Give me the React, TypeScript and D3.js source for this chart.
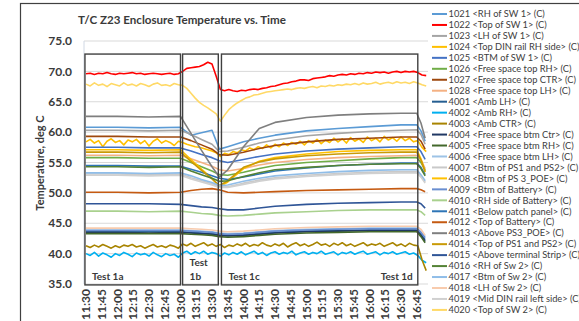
import React from 'react';
import * as d3 from 'd3';

const WIDTH = 579;
const HEIGHT = 321;

const xTickLabels = ['11:30','11:45','12:00','12:15','12:30','12:45','13:00','13:15','13:30','13:45','14:00','14:15','14:30','14:45','15:00','15:15','15:30','15:45','16:00','16:15','16:30','16:45'];
const yTickValues = [35, 40, 45, 50, 55, 60, 65, 70, 75];

// Sample times (clock) for the smooth channels
const smoothTimes = ['11:30','12:00','12:30','13:00','13:10','13:20','13:30','13:37','13:45','14:00','14:15','14:30','15:00','15:30','16:00','16:30','16:45','16:49','16:53'];
// Sample times for the noisy channels: every 4 minutes from 11:30
const noisyTimes = d3.range(0, 325, 4).map(m => {
  const t = 690 + m;
  return `${Math.floor(t / 60)}:${String(t % 60).padStart(2, '0')}`;
});

// ---- noisy channels (82 samples) ----
const v1022 = [69.6,69.7,69.5,69.7,69.6,69.8,69.6,69.5,69.7,69.6,69.7,69.8,69.6,69.7,69.5,69.6,69.7,69.6,69.5,69.6,69.7,69.5,69.6,
  70.0,70.5,70.6,70.7,70.8,71.1,71.5,71.2,69.2,
  67.0,66.8,67.0,66.8,66.7,66.9,66.8,67.0,67.1,67.0,
  67.2,67.3,67.5,67.6,67.8,68.0,68.1,68.3,68.4,68.6,
  68.6,68.5,68.8,68.9,69.0,69.1,69.3,69.2,69.4,69.5,
  69.4,69.6,69.5,69.7,69.6,69.8,69.7,69.9,69.8,69.9,
  69.7,69.9,70.0,69.8,70.0,69.9,70.0,69.8,69.4,69.3];
const v4020 = [67.9,67.6,68.1,67.7,67.9,67.5,68.0,67.8,67.6,68.1,67.7,67.9,67.6,68.0,67.8,67.5,67.9,68.1,67.7,67.8,67.6,68.0,67.8,
  67.7,67.2,66.4,65.6,64.9,64.4,64.0,63.5,63.0,
  61.8,62.8,63.7,64.3,64.8,65.2,65.6,65.8,66.1,66.2,
  66.4,66.6,66.7,66.8,66.9,67.0,67.1,67.0,67.2,67.3,
  67.2,67.4,67.5,67.3,67.6,67.5,67.7,67.6,67.8,67.7,
  67.9,67.8,68.0,67.8,68.1,67.9,68.0,68.2,67.9,68.1,
  68.2,68.0,68.3,68.1,68.2,68.0,68.3,68.1,67.8,67.6];
const v1024 = [58.4,58.8,58.2,58.6,57.6,58.5,58.9,58.3,58.6,57.9,58.7,58.4,58.8,58.1,58.6,57.7,58.5,58.9,58.2,58.6,58.3,57.8,58.5,
  58.3,58.0,57.8,57.6,57.5,57.3,57.1,56.9,56.6,
  56.0,56.5,56.3,56.8,56.6,57.1,56.9,57.4,57.1,57.6,
  57.3,57.9,57.4,58.0,57.6,58.2,57.8,58.3,58.0,58.5,
  57.9,58.6,58.2,58.8,58.1,58.7,58.3,59.0,58.4,58.9,
  58.2,59.1,58.5,58.9,58.3,59.2,58.6,59.0,58.4,59.3,
  58.7,59.1,58.5,59.2,58.6,59.0,58.4,58.6,57.5,56.8];
const v4003 = [41.3,41.0,41.4,41.1,41.5,41.2,40.9,41.3,41.0,41.4,41.2,41.5,41.1,41.3,40.9,41.2,41.5,41.1,41.3,41.0,41.4,41.2,40.9,
  41.6,41.3,41.7,41.2,41.5,41.8,41.3,41.6,41.2,
  41.5,41.0,41.4,41.2,41.6,41.3,41.7,41.2,41.5,41.3,
  41.8,41.4,41.2,41.6,41.3,41.7,41.1,41.5,41.8,41.3,
  41.6,41.2,41.5,41.9,41.4,41.6,41.2,41.7,41.4,41.8,
  41.3,41.6,41.2,41.5,41.8,41.3,41.6,41.4,41.7,41.2,
  41.5,41.8,41.3,41.6,41.2,41.7,41.4,41.3,39.0,37.2];
const v4002 = [40.0,39.7,40.2,39.6,40.1,39.8,39.4,40.0,39.7,40.2,39.9,39.5,40.1,39.8,40.0,39.6,40.2,39.8,39.5,40.0,39.7,39.9,39.4,
  40.1,40.4,39.9,40.3,40.0,40.4,39.9,40.2,40.0,
  39.6,40.1,39.8,40.2,39.9,40.3,39.8,40.1,40.4,39.9,
  40.2,39.7,40.1,40.3,39.9,40.2,40.0,40.4,39.8,40.1,
  40.3,39.9,40.2,40.0,40.4,39.9,40.1,40.3,39.8,40.2,
  40.0,40.3,39.9,40.2,40.4,39.9,40.1,40.3,39.8,40.2,
  40.0,40.3,39.9,40.1,40.3,39.9,40.1,39.7,38.9,38.5];

// ---- smooth channels (19 samples at smoothTimes) ----
const v1021 = [60.8,60.8,60.7,60.8,59.5,59.9,60.3,57.2,57.6,58.4,59.0,59.5,60.2,60.6,60.9,61.2,61.2,60.2,58.5];
const v1023 = [60.3,60.3,60.2,60.3,59.6,58.8,58.0,56.8,56.9,57.5,58.2,58.7,59.4,59.8,60.1,60.3,60.4,59.6,58.0];
const v1025 = [57.5,57.5,57.4,57.4,56.9,56.3,55.8,55.3,55.0,55.5,56.0,56.4,56.9,57.2,57.4,57.6,57.6,56.8,55.5];
const v1026 = [55.8,55.8,55.7,55.7,55.0,54.3,53.6,53.0,52.9,53.4,54.0,54.5,55.0,55.3,55.6,55.8,55.8,55.0,53.8];
const v1027 = [59.3,59.3,59.2,59.2,58.6,57.9,57.2,56.3,56.2,56.7,57.3,57.8,58.4,58.8,59.0,59.2,59.2,58.5,57.2];
const v1028 = [56.2,56.2,56.1,56.2,55.6,55.0,54.4,53.8,53.6,54.0,54.6,55.0,55.5,55.8,56.0,56.1,56.2,55.5,54.0];
const v4001 = [43.6,43.6,43.6,43.6,43.5,43.4,43.3,43.1,43.0,43.1,43.3,43.5,43.7,43.8,43.9,43.9,43.9,43.2,42.3];
const v4004 = [43.5,43.5,43.4,43.5,43.4,43.3,43.2,43.0,42.9,43.0,43.2,43.4,43.6,43.7,43.8,43.8,43.8,43.0,42.0];
const v4005 = [43.3,43.3,43.3,43.3,43.2,43.1,43.0,42.8,42.7,42.8,43.0,43.2,43.4,43.5,43.6,43.6,43.6,42.8,41.8];
const v4006 = [43.9,43.9,43.9,43.9,43.8,43.7,43.6,43.4,43.3,43.4,43.6,43.8,44.0,44.1,44.2,44.2,44.2,43.6,42.8];
const v4007 = [53.1,53.1,53.0,53.1,52.5,52.0,51.5,51.0,51.0,51.6,52.1,52.5,52.9,53.2,53.4,53.5,53.5,52.8,51.8];
const v4008 = [57.1,57.1,57.0,57.1,55.5,53.9,52.4,51.0,51.8,54.0,55.2,55.8,56.4,56.8,57.0,57.1,57.1,55.6,53.4];
const v4009 = [43.8,43.8,43.8,43.8,43.7,43.6,43.5,43.3,43.2,43.3,43.5,43.7,43.9,44.0,44.1,44.1,44.1,43.5,42.6];
const v4010 = [47.0,47.0,46.9,47.0,46.8,46.6,46.5,46.3,46.2,46.3,46.5,46.7,46.9,47.1,47.2,47.2,47.2,46.9,46.3];
const v4011 = [54.5,54.5,54.4,54.4,53.9,53.4,52.8,52.4,52.2,52.6,53.1,53.6,54.1,54.5,54.7,54.9,54.9,54.2,53.0];
const v4012 = [50.1,50.1,50.0,50.1,50.4,50.6,50.7,50.5,50.1,50.0,50.1,50.2,50.4,50.5,50.6,50.7,50.7,50.5,50.2];
const v4013 = [62.6,62.6,62.5,62.6,59.8,57.0,54.3,52.6,53.8,57.6,60.6,61.6,62.4,62.8,63.0,63.1,63.1,61.5,59.0];
const v4014 = [56.7,56.7,56.6,56.7,55.2,53.7,52.3,51.2,52.0,54.2,55.1,55.6,56.1,56.4,56.6,56.7,56.7,55.4,53.5];
const v4015 = [48.2,48.2,48.2,48.1,47.9,47.7,47.6,47.4,47.2,47.2,47.5,47.8,48.1,48.3,48.4,48.5,48.5,48.2,47.5];
const v4016 = [54.3,54.3,54.2,54.3,53.6,53.0,52.4,51.9,52.0,52.7,53.3,53.8,54.2,54.5,54.7,54.8,54.8,54.0,52.8];
const v4017 = [53.3,53.3,53.2,53.3,52.8,52.2,51.7,51.2,51.3,51.9,52.4,52.8,53.2,53.5,53.7,53.8,53.8,53.0,52.0];
const v4018 = [44.2,44.2,44.2,44.2,44.1,44.0,43.9,43.7,43.6,43.7,43.9,44.1,44.3,44.4,44.5,44.5,44.5,44.0,43.0];
const v4019 = [52.9,52.9,52.8,52.9,52.3,51.8,51.3,50.9,50.9,51.4,51.9,52.3,52.7,53.0,53.2,53.3,53.3,52.6,51.6];

const seriesNames = [
  '1021 <RH of SW 1> (C)', '1022 <Top of SW 1> (C)', '1023 <LH of SW 1> (C)', '1024 <Top DIN rail RH side> (C)',
  '1025 <BTM of SW 1> (C)', '1026 <Free space top RH> (C)', '1027 <Free space top CTR> (C)', '1028 <Free space top LH> (C)',
  '4001 <Amb LH> (C)', '4002 <Amb RH> (C)', '4003 <Amb CTR> (C)', '4004 <Free space btm Ctr> (C)',
  '4005 <Free space btm RH> (C)', '4006 <Free space btm LH> (C)', '4007 <Btm of PS1 and PS2> (C)', '4008 <Btm of PS 3_POE> (C)',
  '4009 <Btm of Battery> (C)', '4010 <RH side of Battery> (C)', '4011 <Below patch panel> (C)', '4012 <Top of Battery> (C)',
  '4013 <Above PS3_POE> (C)', '4014 <Top of PS1 and PS2> (C)', '4015 <Above terminal Strip> (C)', '4016 <RH of Sw 2> (C)',
  '4017 <Btm of Sw 2> (C)', '4018 <LH of Sw 2> (C)', '4019 <Mid DIN rail left side> (C)', '4020 <Top of SW 2> (C)'
];
const seriesColors = [
  '#5B9BD5', '#FF0000', '#A5A5A5', '#FFC000', '#4472C4', '#70AD47', '#9E480E', '#F4B183',
  '#255E91', '#00B0F0', '#A88400', '#203864', '#43682B', '#9DC3E6', '#C9C9C9', '#FFC000',
  '#698ED0', '#A9D18E', '#2E75B6', '#C55A11', '#7F7F7F', '#C99A06', '#2F5597', '#548235',
  '#8FBDE8', '#F8CBAD', '#D0D0D0', '#FFD966'
];
const seriesValues = [v1021, v1022, v1023, v1024, v1025, v1026, v1027, v1028, v4001, v4002, v4003, v4004, v4005, v4006,
  v4007, v4008, v4009, v4010, v4011, v4012, v4013, v4014, v4015, v4016, v4017, v4018, v4019, v4020];

// Test phase boxes (clock times, temperature top/bottom)
const testBoxes = [
  { start: '11:29', end: '13:00', labels: [['Test 1a']], rightLabel: null as string | null },
  { start: '13:02', end: '13:36', labels: [['Test', '1b']], rightLabel: null as string | null },
  { start: '13:39', end: '16:46', labels: [['Test 1c']], rightLabel: 'Test 1d' },
];
const boxTop = 72.85;
const boxBottom = 34.85;

const toMin = (s: string) => {
  const [h, m] = s.split(':').map(Number);
  return h * 60 + m - 690;
};

export default function App() {
  const x = d3.scaleLinear().domain([0, 315]).range([86, 416.75]);
  const y = d3.scaleLinear().domain([35, 75]).range([284, 41]);
  const plotLeft = 84, plotRight = 428;

  const line = d3.line<[number, number]>().x(d => x(d[0])).y(d => y(d[1]));

  const series = seriesValues.map((vals, i) => {
    const times = vals.length === noisyTimes.length ? noisyTimes : smoothTimes;
    const pts: [number, number][] = vals.map((v, j) => [toMin(times[j]), v]);
    return { name: seriesNames[i], color: seriesColors[i], d: line(pts) || '' };
  });

  const font = "Lato, 'Open Sans', 'DejaVu Sans', sans-serif";
  const dark = '#3a3a3a';

  return (
    <svg width={WIDTH} height={HEIGHT} style={{ position: 'absolute', left: 0, top: 0, background: '#fff' }} fontFamily={font}>
      <rect x={0} y={0} width={WIDTH} height={HEIGHT} fill="#fff" />
      <rect x={20.5} y={3.5} width={700} height={400} fill="none" stroke="#404040" strokeWidth={1.2} />
      <text x={78} y={24} fontSize={11.6} fontWeight="bold" fill={dark}>T/C Z23 Enclosure Temperature vs. Time</text>

      {yTickValues.map(v => (
        <line key={'g' + v} x1={plotLeft} x2={plotRight} y1={y(v)} y2={y(v)} stroke="#D9D9D9" strokeWidth={1} />
      ))}
      <line x1={plotLeft} x2={plotLeft} y1={y(75)} y2={y(35)} stroke="#D0D8E4" strokeWidth={1} />

      <defs>
        <clipPath id="plotclip">
          <rect x={plotLeft} y={30} width={plotRight - plotLeft} height={260} />
        </clipPath>
      </defs>
      <g clipPath="url(#plotclip)" fill="none" strokeLinejoin="round">
        {series.map(s => (
          <path key={s.name} d={s.d} stroke={s.color} strokeWidth={1.6} />
        ))}
      </g>

      {testBoxes.map((b, i) => {
        const x0 = x(toMin(b.start)), x1 = x(toMin(b.end));
        const y0 = y(boxTop), y1 = y(boxBottom);
        return (
          <g key={'b' + i}>
            <rect x={x0} y={y0} width={x1 - x0} height={y1 - y0} fill="none" stroke="#404040" strokeWidth={1.4} />
            {b.labels.map((lines, k) => (
              <text key={k} x={x0 + 7} y={y1 - 5} fontSize={10} fontWeight="bold" fill={dark}>
                {lines.map((ln, j) => (
                  <tspan key={j} x={x0 + 7} dy={j === 0 ? -(lines.length - 1) * 14 : 14}>{ln}</tspan>
                ))}
              </text>
            ))}
            {b.rightLabel && (
              <text x={x1 - 5} y={y1 - 5} textAnchor="end" fontSize={10} fontWeight="bold" fill={dark}>{b.rightLabel}</text>
            )}
          </g>
        );
      })}

      {yTickValues.map(v => (
        <text key={'yl' + v} x={72} y={y(v)} dy="0.35em" textAnchor="end" fontSize={12} fontWeight="bold" fill={dark}>
          {d3.format('.1f')(v)}
        </text>
      ))}
      {xTickLabels.map(l => (
        <text key={'xl' + l} transform={`translate(${x(toMin(l))},289) rotate(-90)`} dy="0.35em" textAnchor="end"
          fontSize={12} fontWeight="bold" fill={dark}>{l}</text>
      ))}
      <text transform="translate(44,163) rotate(-90)" textAnchor="middle" fontSize={11} fontWeight="bold" fill={dark}>
        Temperature, deg C
      </text>

      {series.map((s, i) => {
        const ly = 14 + i * 10.96;
        return (
          <g key={'lg' + i}>
            <line x1={432} x2={447} y1={ly} y2={ly} stroke={s.color} strokeWidth={2} />
            <text x={448.5} y={ly} dy="0.35em" fontSize={9.3} fill="#404040">{s.name}</text>
          </g>
        );
      })}
    </svg>
  );
}
